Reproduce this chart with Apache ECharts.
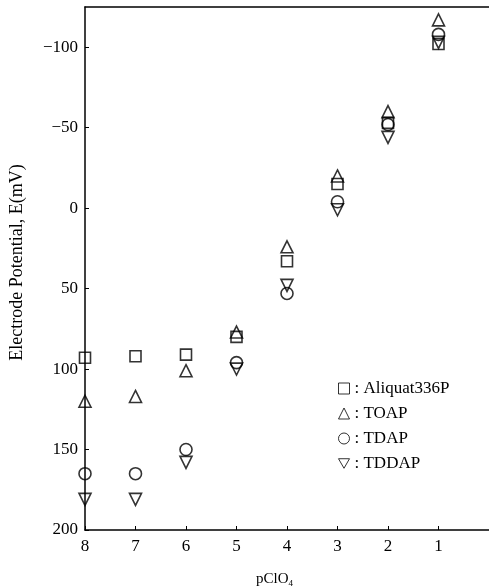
<!DOCTYPE html>
<html>
<head>
<meta charset="utf-8">
<script src="https://cdn.jsdelivr.net/npm/echarts@6/dist/echarts.min.js"></script>
<style>
html,body{margin:0;padding:0;background:#fff;}
#chart{width:489px;height:588px;}
</style>
</head>
<body>
<div id="chart"></div>
<script>
// pClO4 values (x) and electrode potentials E (mV)
const xValues = [8, 7, 6, 5, 4, 3, 2, 1];
const aliquat = [93, 92, 91, 80, 33, -15, -53, -102];
const toap = [120, 117, 101, 77, 24, -20, -60, -117];
const tdap = [165, 165, 150, 96, 53, -4, -52, -108];
const tddap = [181, 181, 158, 100, 48, 1, -44, -103];
const seriesNames = ['Aliquat336P', 'TOAP', 'TDAP', 'TDDAP'];
const yTickValues = [-100, -50, 0, 50, 100, 150, 200];
const xTickValues = [1, 2, 3, 4, 5, 6, 7, 8];

const FONT = '"Liberation Serif", "DejaVu Serif", serif';
const pair = arr => xValues.map((x, i) => [x, arr[i]]);
const downTri = 'path://M0,0 L12,0 L6,10.4 Z';

const mk = (name, data, symbol, size) => ({
  name: name,
  type: 'scatter',
  data: pair(data),
  symbol: symbol,
  symbolSize: size,
  itemStyle: { color: 'rgba(255,255,255,0)', borderColor: '#000', borderWidth: 1.6 },
  emphasis: { disabled: true },
  z: 3
});

const chart = echarts.init(document.getElementById('chart'), null, { renderer: 'canvas' });
chart.setOption({
  animation: false,
  backgroundColor: '#fff',
  textStyle: { fontFamily: FONT, color: '#000' },
  grid: { left: 85, right: 0, top: 7, bottom: 58, containLabel: false },
  title: {
    text: '{a|pClO}{b|4}',
    left: 251, top: 566,
    textStyle: {
      fontWeight: 'normal',
      rich: {
        a: { fontFamily: FONT, fontSize: 15, fontWeight: 'normal', color: '#000' },
        b: { fontFamily: FONT, fontSize: 9, fontWeight: 'normal', color: '#000', padding: [8, 0, 0, 0] }
      }
    }
  },
  legend: {
    orient: 'vertical',
    left: 333, top: 375,
    itemWidth: 11, itemHeight: 11, itemGap: 8,
    data: seriesNames,
    formatter: ': {name}',
    textStyle: { fontFamily: FONT, fontSize: 17, color: '#000' },
    itemStyle: { borderWidth: 1 }
  },
  xAxis: [{
    type: 'value', min: 0, max: 8, inverse: true,
    axisLine: { show: true, onZero: false, lineStyle: { color: '#000', width: 1.5 } },
    axisTick: { show: true, inside: true, length: 4, customValues: xTickValues, lineStyle: { color: '#000' } },
    axisLabel: { customValues: xTickValues, margin: 8, fontFamily: FONT, fontSize: 17, color: '#000' },
    splitLine: { show: false }
  }, {
    type: 'value', min: 0, max: 8, inverse: true, position: 'top',
    axisLine: { show: true, onZero: false, lineStyle: { color: '#000', width: 1.5 } },
    axisTick: { show: false }, axisLabel: { show: false }, splitLine: { show: false }
  }],
  yAxis: {
    type: 'value', min: -125, max: 200, inverse: true,
    name: 'Electrode Potential, E(mV)',
    nameLocation: 'middle', nameGap: 59, nameRotate: 90,
    nameTextStyle: { fontFamily: FONT, fontSize: 18, color: '#000', padding: [0, 0, 0, 12] },
    axisLine: { show: true, onZero: false, lineStyle: { color: '#000', width: 1.5 } },
    axisTick: { show: true, inside: true, length: 4, customValues: yTickValues, lineStyle: { color: '#000' } },
    axisLabel: {
      customValues: yTickValues, margin: 7, fontFamily: FONT, fontSize: 17, color: '#000',
      formatter: v => (v < 0 ? '\u2212' + (-v) : String(v))
    },
    splitLine: { show: false }
  },
  series: [
    mk(seriesNames[0], aliquat, 'rect', 11),
    mk(seriesNames[1], toap, 'triangle', 12),
    mk(seriesNames[2], tdap, 'circle', 12),
    mk(seriesNames[3], tddap, downTri, 12)
  ]
});
</script>
</body>
</html>
